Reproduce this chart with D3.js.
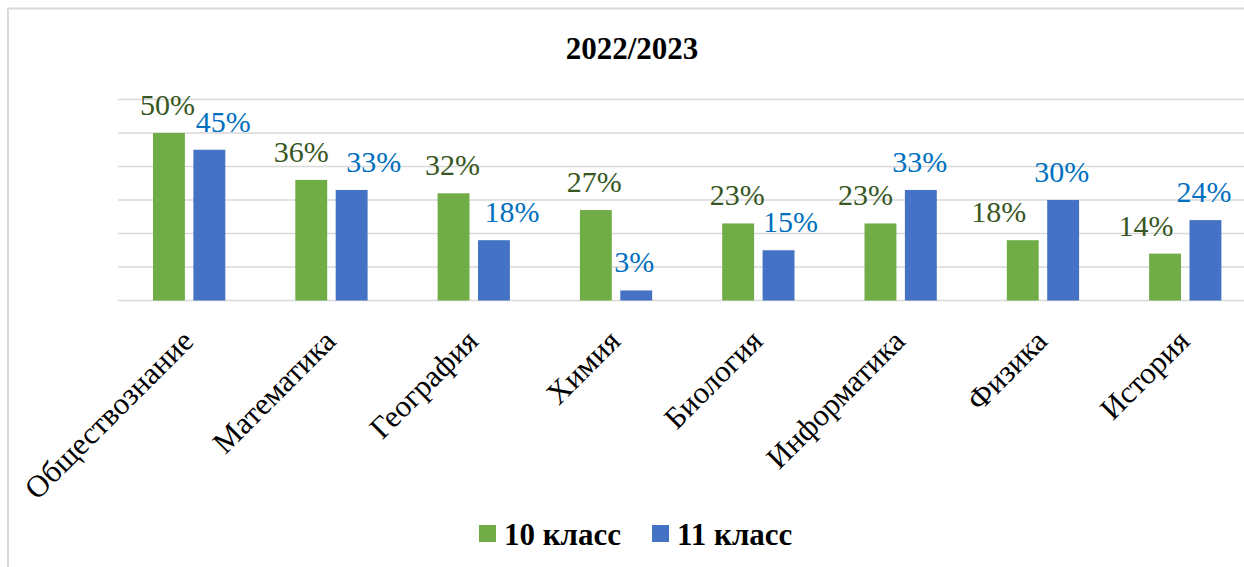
<!DOCTYPE html>
<html>
<head>
<meta charset="utf-8">
<script src="https://cdn.jsdelivr.net/npm/d3@7"></script>
<style>
  body { margin: 0; background: #fff; }
  svg text { font-family: "Liberation Serif", "Times New Roman", serif; }
</style>
</head>
<body>
<script>
// data
const subjects = ["Обществознание", "Математика", "География", "Химия", "Биология", "Информатика", "Физика", "История"];
const seriesNames = ["10 класс", "11 класс"];
const grade10 = [50, 36, 32, 27, 23, 23, 18, 14];
const grade11 = [45, 33, 18, 3, 15, 33, 30, 24];
const yTicks = [0, 10, 20, 30, 40, 50, 60];
const title = "2022/2023";

// manual nudges of the value labels, as in the original
const shift10 = [-1.5, -10, -1, -1.5, -1, -15, -24, -19];
const shift11 = [14, 22, 18, -2, 12, -1, -1.5, -1.5];

const w = 1244;
const h = 567;
const serif = "'Liberation Serif', 'Times New Roman', serif";
const colors = ["#70ad47", "#4472c4"];
const labelColors = ["#385723", "#0070c0"];

const svg = d3.select("body")
  .append("svg")
  .attr("width", w)
  .attr("height", h);

// chart border (cut off at right and bottom)
svg.append("rect")
  .attr("x", 8)
  .attr("y", 8.5)
  .attr("width", w + 20)
  .attr("height", h + 20)
  .attr("fill", "none")
  .attr("stroke", "#d9d9d9")
  .attr("stroke-width", 2);

const x0 = d3.scaleBand()
  .domain(subjects)
  .range([118, 1256.4])
  .paddingInner(0.492)
  .paddingOuter(0.246);

const x1 = d3.scaleBand()
  .domain(seriesNames)
  .range([0, x0.bandwidth()])
  .paddingInner(0.21);

const y = d3.scaleLinear()
  .domain([0, 60])
  .range([300.5, 99.5]);

// gridlines
svg.append("g")
  .selectAll("line")
  .data(yTicks)
  .enter()
  .append("line")
  .attr("x1", 118)
  .attr("x2", w)
  .attr("y1", d => y(d))
  .attr("y2", d => y(d))
  .attr("stroke", "#d9d9d9")
  .attr("stroke-width", 1.5);

const rows = subjects.map((s, i) => ({
  subject: s,
  values: [
    { key: seriesNames[0], v: grade10[i], dx: shift10[i], k: 0 },
    { key: seriesNames[1], v: grade11[i], dx: shift11[i], k: 1 }
  ]
}));

const groups = svg.append("g")
  .selectAll("g")
  .data(rows)
  .enter()
  .append("g")
  .attr("transform", d => "translate(" + x0(d.subject) + ",0)");

groups.selectAll("rect")
  .data(d => d.values)
  .enter()
  .append("rect")
  .attr("x", d => x1(d.key))
  .attr("y", d => y(d.v))
  .attr("width", x1.bandwidth())
  .attr("height", d => y(0) - y(d.v))
  .attr("fill", d => colors[d.k]);

groups.selectAll("text")
  .data(d => d.values)
  .enter()
  .append("text")
  .attr("x", d => x1(d.key) + x1.bandwidth() / 2 + d.dx)
  .attr("y", d => y(d.v) - 18)
  .attr("text-anchor", "middle")
  .attr("font-family", serif)
  .style("font-size", "30px")
  .style("fill", d => labelColors[d.k])
  .text(d => d.v + "%");

// category labels rotated -45
svg.append("g")
  .selectAll("text")
  .data(subjects)
  .enter()
  .append("text")
  .attr("transform", d => "translate(" + (x0(d) + x0.bandwidth() / 2 + 6) + ",343) rotate(-45)")
  .attr("text-anchor", "end")
  .attr("font-family", serif)
  .style("font-size", "31px")
  .style("fill", "#000")
  .text(d => d);

// title
svg.append("text")
  .attr("x", 632)
  .attr("y", 58.5)
  .attr("text-anchor", "middle")
  .attr("font-family", serif)
  .style("font-size", "31px")
  .style("font-weight", "bold")
  .text(title);

// legend
const legendX = [479, 652];
const legend = svg.append("g")
  .selectAll("g")
  .data(seriesNames)
  .enter()
  .append("g")
  .attr("transform", (d, i) => "translate(" + legendX[i] + ",525)");

legend.append("rect")
  .attr("width", 17)
  .attr("height", 17)
  .attr("fill", (d, i) => colors[i]);

legend.append("text")
  .attr("x", 25)
  .attr("y", 20)
  .attr("font-family", serif)
  .style("font-size", "31px")
  .style("font-weight", "bold")
  .text(d => d);
</script>
</body>
</html>
